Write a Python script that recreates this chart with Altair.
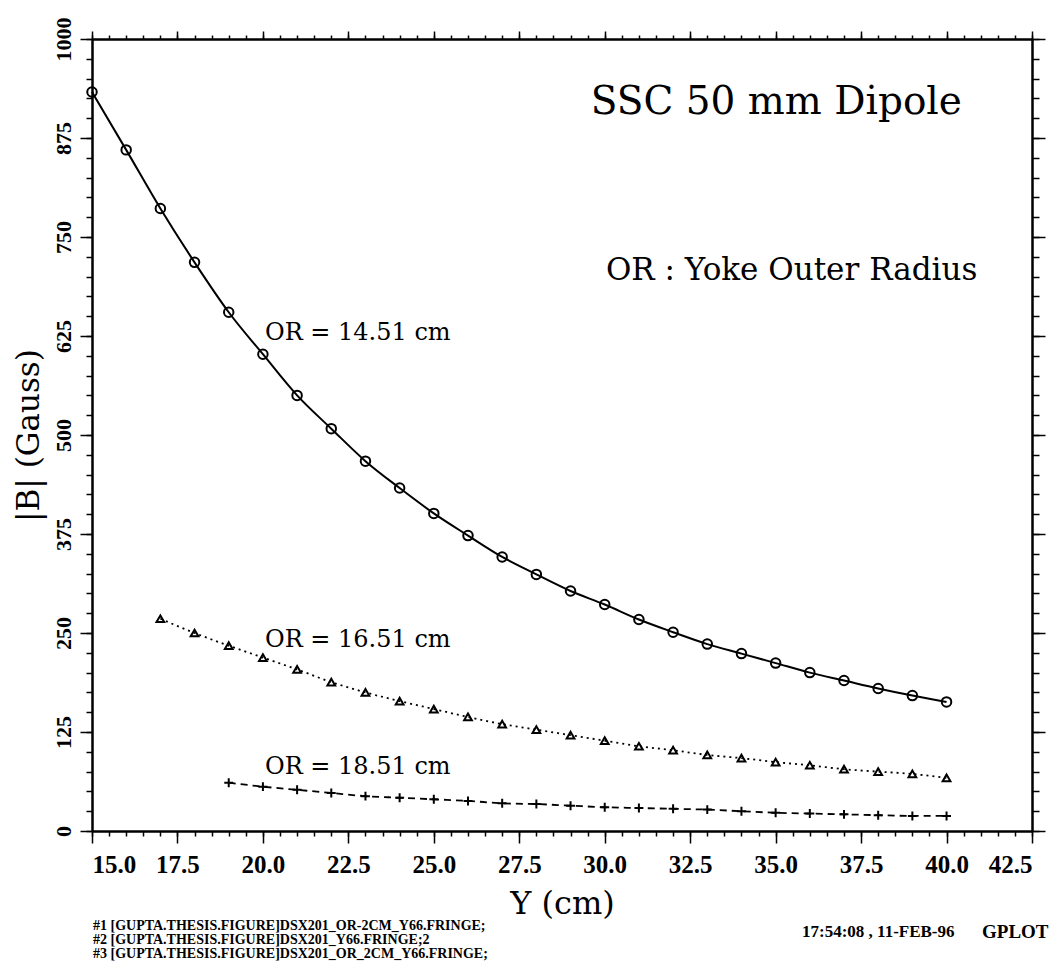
import altair as alt
import pandas as pd

# ---------------- data ----------------
SERIES = ["OR = 14.51 cm", "OR = 16.51 cm", "OR = 18.51 cm"]

Y_CM_1 = [15, 16, 17, 18, 19, 20, 21, 22, 23, 24, 25, 26, 27, 28, 29, 30,
          31, 32, 33, 34, 35, 36, 37, 38, 39, 40]
B_1 = [933, 860, 786, 718, 655, 602, 550, 508, 467, 433, 401, 373, 346, 324,
       303, 286, 267, 251, 236, 224, 212, 200, 190, 180, 171, 163]

Y_CM_2 = [17, 18, 19, 20, 21, 22, 23, 24, 25, 26, 27, 28, 29, 30, 31, 32,
          33, 34, 35, 36, 37, 38, 39, 40]
B_2 = [268, 250, 234, 219, 204, 188, 175, 164, 154, 144, 135, 128, 121, 114,
       107, 102, 96, 92, 87, 83, 78, 75, 72, 67]

Y_CM_3 = [19, 20, 21, 22, 23, 24, 25, 26, 27, 28, 29, 30, 31, 32, 33, 34,
          35, 36, 37, 38, 39, 40]
B_3 = [61, 56, 52, 48, 44, 42, 40, 38, 35, 34, 32, 30, 29, 28, 27, 25,
       23, 22, 21, 20, 19, 19]

X_MAJOR = [15.0, 17.5, 20.0, 22.5, 25.0, 27.5, 30.0, 32.5, 35.0, 37.5, 40.0, 42.5]
Y_MAJOR = [0, 125, 250, 375, 500, 625, 750, 875, 1000]
X_MINOR = [15 + 0.5 * i for i in range(56)]
Y_MINOR = [25 * i for i in range(41)]

TITLE_TEXT = "SSC 50 mm Dipole"
SUBTITLE_TEXT = "OR : Yoke Outer Radius"
FOOTNOTES = [
    "#1 [GUPTA.THESIS.FIGURE]DSX201_OR-2CM_Y66.FRINGE;",
    "#2 [GUPTA.THESIS.FIGURE]DSX201_Y66.FRINGE;2",
    "#3 [GUPTA.THESIS.FIGURE]DSX201_OR_2CM_Y66.FRINGE;",
]
STAMP = "17:54:08 , 11-FEB-96"
PROG = "GPLOT"

# ---------------- layout ----------------
W, H = 940, 792
LABEL_FONT = "Liberation Serif"
TEXT_FONT = "DejaVu Serif"

xs = alt.Scale(domain=[15, 42.5], nice=False, zero=False)
ys = alt.Scale(domain=[0, 1000], nice=False, zero=False)

common_axis = dict(grid=False, domainColor="black", domainWidth=2,
                   tickColor="black", tickWidth=1.5)


def xaxis(orient, values, size, labels=False):
    kw = dict(common_axis)
    if labels:
        kw.update(labelFont=LABEL_FONT, labelFontSize=25, labelFontWeight="bold",
                  labelColor="black", format=".1f", labelPadding=9,
                  title="Y (cm)", titleFont=TEXT_FONT, titleFontSize=32,
                  titleFontWeight="normal", titleColor="black", titlePadding=11)
    else:
        kw.update(labels=False, title=None)
    return alt.Axis(orient=orient, values=values, tickSize=size, **kw)


def yaxis(orient, values, size, labels=False):
    kw = dict(common_axis)
    if labels:
        kw.update(labelFont=LABEL_FONT, labelFontSize=22, labelFontWeight="bold",
                  labelColor="black", labelAngle=-90, labelAlign="center",
                  labelBaseline="bottom", labelPadding=5, format="d",
                  title="|B| (Gauss)", titleFont=TEXT_FONT, titleFontSize=31,
                  titleFontWeight="normal", titleColor="black", titlePadding=7)
    else:
        kw.update(labels=False, title=None)
    return alt.Axis(orient=orient, values=values, tickSize=size, **kw)


df1 = pd.DataFrame({"y": Y_CM_1, "b": B_1})
df2 = pd.DataFrame({"y": Y_CM_2, "b": B_2})
df3 = pd.DataFrame({"y": Y_CM_3, "b": B_3})
one = pd.DataFrame({"a": [0]})


def X(axis=None):
    if axis is None:
        return alt.X("y:Q", scale=xs, axis=None)
    return alt.X("y:Q", scale=xs, axis=axis)


def Y(axis=None):
    if axis is None:
        return alt.Y("b:Q", scale=ys, axis=None)
    return alt.Y("b:Q", scale=ys, axis=axis)


# data layers
line1 = alt.Chart(df1).mark_line(color="black", strokeWidth=2, interpolate="monotone").encode(
    x=X(xaxis("bottom", X_MAJOR, 12, labels=True)),
    y=Y(yaxis("left", Y_MAJOR, 12, labels=True)))
line2 = alt.Chart(df2).mark_line(color="black", strokeWidth=1.8, strokeDash=[2, 4],
                                 interpolate="monotone").encode(x=X(), y=Y())
line3 = alt.Chart(df3).mark_line(color="black", strokeWidth=1.8, strokeDash=[7, 5],
                                 interpolate="monotone").encode(x=X(), y=Y())
pts1 = alt.Chart(df1).mark_point(shape="circle", filled=False, color="black",
                                 strokeWidth=2, size=90, opacity=1).encode(x=X(), y=Y())
pts2 = alt.Chart(df2).mark_point(shape="triangle-up", filled=False, color="black",
                                 strokeWidth=2, size=60, opacity=1).encode(x=X(), y=Y())
pts3 = alt.Chart(df3).mark_point(shape="M-1,0L1,0M0,-1L0,1", filled=False, color="black",
                                 strokeWidth=2, size=80, opacity=1).encode(x=X(), y=Y())

# extra axes (minor ticks + top/right frame)
ax_a = alt.Chart(df1).mark_point(opacity=0).encode(
    x=X(xaxis("bottom", X_MINOR, 5)), y=Y(yaxis("left", Y_MINOR, 6)))
ax_b = alt.Chart(df1).mark_point(opacity=0).encode(
    x=X(xaxis("top", X_MAJOR, 8)), y=Y(yaxis("right", Y_MAJOR, 13)))
ax_c = alt.Chart(df1).mark_point(opacity=0).encode(
    x=X(xaxis("top", X_MINOR, 4)), y=Y(yaxis("right", Y_MINOR, 7)))


def note(text, x, y, size, align="left", font=TEXT_FONT, weight="normal"):
    return alt.Chart(one).mark_text(
        text=text, font=font, fontSize=size, fontWeight=weight, color="black",
        align=align, baseline="middle").encode(
        x=alt.XDatum(x, scale=xs, axis=None), y=alt.YDatum(y, scale=ys, axis=None))


def pnote(text, px, py, size, align="left", font=LABEL_FONT, weight="bold"):
    return alt.Chart(one).mark_text(
        text=text, font=font, fontSize=size, fontWeight=weight, color="black",
        align=align, baseline="middle").encode(x=alt.value(px), y=alt.value(py))


texts = [
    note(SERIES[0], 20.06, 629, 24),
    note(SERIES[1], 20.06, 241, 24),
    note(SERIES[2], 20.06, 81, 24),
    note(TITLE_TEXT, 40.45, 920, 39, align="right"),
    note(SUBTITLE_TEXT, 40.9, 707, 31, align="right"),
    pnote(FOOTNOTES[0], 1, 887, 14),
    pnote(FOOTNOTES[1], 1, 901, 14),
    pnote(FOOTNOTES[2], 1, 915, 14),
    pnote(STAMP, 710, 893, 17),
    pnote(PROG, 890, 893, 19),
]

chart = alt.layer(
    line1, line2, line3, pts1, pts2, pts3, ax_a, ax_b, ax_c, *texts
).resolve_axis(x="independent", y="independent").properties(
    width=W, height=H,
    autosize=alt.AutoSizeParams(type="none"),
    padding={"left": 84, "top": 31, "right": 24, "bottom": 130},
    background="white",
).configure_view(stroke=None)

chart.save("out.html", embed_options={"renderer": "svg", "actions": False})
